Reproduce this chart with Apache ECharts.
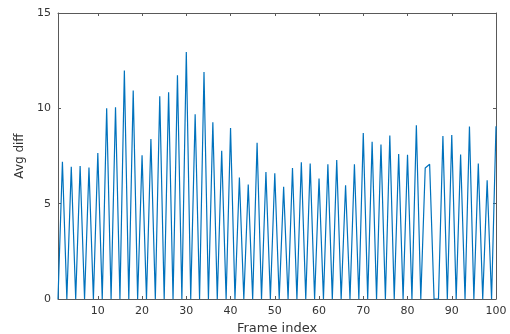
<!DOCTYPE html>
<html>
<head>
<meta charset="utf-8">
<script src="https://cdn.jsdelivr.net/npm/echarts@6/dist/echarts.min.js"></script>
<style>
  html, body { margin: 0; padding: 0; background: #fff; }
  #main { width: 510px; height: 334px; }
</style>
</head>
<body>
<div id="main"></div>
<script>
// frame index 1..100 and avg diff per frame
const frames = [];
for (let i = 1; i <= 100; i++) frames.push(i);

const avgDiff = [
  0, 7.2, 0, 6.93, 0, 6.98, 0, 6.9, 0, 7.66,
  0, 10.0, 0, 10.05, 0, 11.99, 0, 10.94, 0, 7.54,
  0, 8.39, 0, 10.63, 0, 10.84, 0, 11.74, 0, 12.95,
  0, 9.69, 0, 11.9, 0, 9.27, 0, 7.77, 0, 8.97,
  0, 6.37, 0, 6.0, 0, 8.2, 0, 6.66, 0, 6.6,
  0, 5.88, 0, 6.87, 0, 7.17, 0, 7.1, 0, 6.32,
  0, 7.07, 0, 7.29, 0, 5.97, 0, 7.07, 0, 8.71,
  0, 8.24, 0, 8.1, 0, 8.57, 0, 7.61, 0, 7.56,
  0, 9.11, 0, 6.87, 7.07, 0, 0, 8.55, 0, 8.6,
  0, 7.58, 0, 9.04, 0, 7.1, 0, 6.23, 0, 9.06
];

const xTicks = [10, 20, 30, 40, 50, 60, 70, 80, 90, 100];

const axisColor = '#595959';
const labelStyle = { color: '#333333', fontSize: 11, fontFamily: 'DejaVu Sans' };

let chart = echarts.init(document.getElementById('main'));

function boxAxis(pos, isX) {
    const a = {
        type: 'value',
        position: pos,
        min: isX ? 1 : 0,
        max: isX ? 100 : 15,
        axisLine: { show: true, onZero: false, lineStyle: { color: axisColor, width: 1 } },
        axisTick: { show: true, inside: true, length: 3, lineStyle: { color: axisColor } },
        axisLabel: { show: false },
        splitLine: { show: false }
    };
    if (isX) {
        a.axisTick.customValues = xTicks;
    } else {
        a.interval = 5;
    }
    return a;
}

const xBottom = boxAxis('bottom', true);
xBottom.axisLabel = Object.assign({ show: true, margin: 7, customValues: xTicks }, labelStyle);
xBottom.name = 'Frame index';
xBottom.nameLocation = 'middle';
xBottom.nameGap = 21;
xBottom.nameTextStyle = { color: '#333333', fontSize: 13, fontFamily: 'DejaVu Sans' };

const yLeft = boxAxis('left', false);
yLeft.axisLabel = Object.assign({ show: true, margin: 7 }, labelStyle);
yLeft.name = 'Avg diff';
yLeft.nameLocation = 'middle';
yLeft.nameGap = 30;
yLeft.nameTextStyle = { color: '#333333', fontSize: 12, fontFamily: 'DejaVu Sans' };

chart.setOption({
    animation: false,
    grid: { left: 58, right: 14, top: 13, bottom: 35, outerBoundsMode: 'none' },
    xAxis: [xBottom, boxAxis('top', true)],
    yAxis: [yLeft, boxAxis('right', false)],
    series: [{
        type: 'line',
        data: frames.map((f, i) => [f, avgDiff[i]]),
        showSymbol: false,
        lineStyle: { color: '#0072BD', width: 1.2 },
        itemStyle: { color: '#0072BD' }
    }]
});
</script>
</body>
</html>
